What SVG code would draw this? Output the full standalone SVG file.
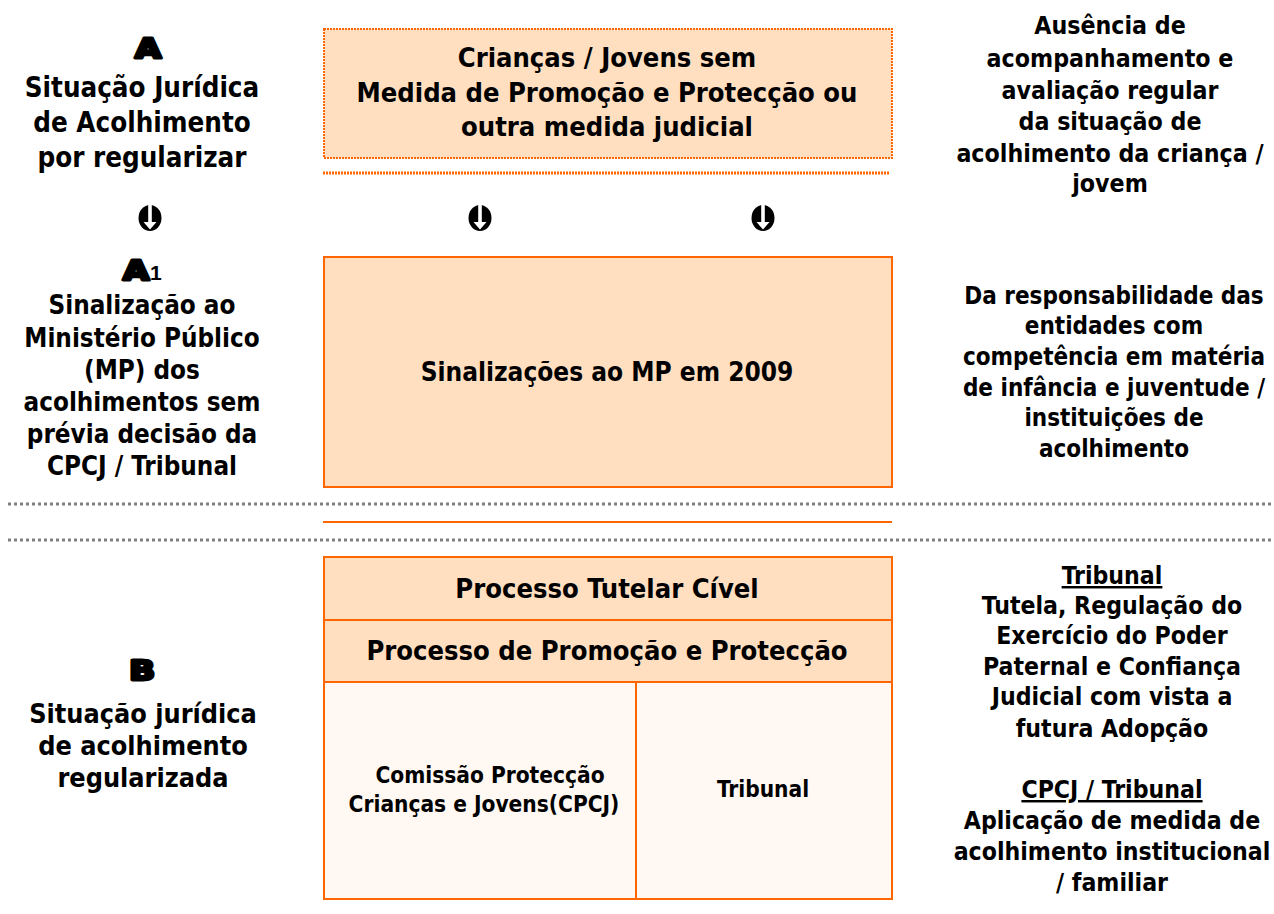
<svg xmlns="http://www.w3.org/2000/svg" width="1274" height="914" viewBox="0 0 1274 914">
<style>
.t{font-family:"DejaVu Sans Condensed","DejaVu Sans",sans-serif;font-weight:bold;fill:#000;text-anchor:middle}
.la{font-size:27.5px}
.la1{font-size:25.8px}
.lb{font-size:26.8px}
.rt{font-size:24.7px}
.rm{font-size:24px}
.rb{font-size:24.6px}
.bx{font-size:27.1px}
.cell{font-size:22.5px}
.big{font-family:"DejaVu Sans",sans-serif;font-weight:bold;font-size:26px;stroke:#000;stroke-width:3;stroke-linejoin:round;text-anchor:middle}
.ob{stroke:#FF6600;stroke-width:2}
.gdot{stroke:#808080;stroke-width:3;stroke-dasharray:3 3;fill:none}
</style>
<defs>
<g id="arr">
<ellipse cx="0" cy="0" rx="11.5" ry="13" fill="#000"/>
<path d="M-1.8,-14 L1.8,-14 L1.8,4 L6.5,4 L0,11.5 L-6.5,4 L-1.8,4 Z" fill="#fff"/>
</g>
</defs>
<rect width="1274" height="914" fill="#fff"/>

<g id="connectors">
<line x1="323" y1="173" x2="890" y2="173" stroke="#FF6600" stroke-width="3" stroke-dasharray="2 1"/>
<use href="#arr" x="150" y="218"/>
<use href="#arr" x="480" y="218"/>
<use href="#arr" x="763" y="218"/>
<line class="gdot" x1="8" y1="504" x2="1274" y2="504"/>
<line class="gdot" x1="8" y1="540" x2="1274" y2="540"/>
<line x1="323" y1="522" x2="892" y2="522" stroke="#FF6600" stroke-width="2"/>
</g>

<g id="labelA">
<text class="big" transform="translate(148,58) scale(1.3,1)">A</text>
<text class="t la" x="142" y="97">Situação Jurídica</text>
<text class="t la" x="142" y="132">de Acolhimento</text>
<text class="t la" x="142" y="167">por regularizar</text>
</g>

<g id="labelA1">
<text class="big" transform="translate(136,280) scale(1.3,1)">A</text>
<text x="150" y="280" style="font-family:'Liberation Sans',sans-serif;font-weight:bold;font-size:21px">1</text>
<text class="t la1" x="142" y="314">Sinalização ao</text>
<text class="t la1" x="142" y="347">Ministério Público</text>
<text class="t la1" x="142" y="379">(MP) dos</text>
<text class="t la1" x="142" y="411">acolhimentos sem</text>
<text class="t la1" x="142" y="443">prévia decisão da</text>
<text class="t la1" x="142" y="475">CPCJ / Tribunal</text>
</g>

<g id="labelB">
<text class="big" transform="translate(142,680) scale(1.3,1)">B</text>
<text class="t lb" x="143" y="723">Situação jurídica</text>
<text class="t lb" x="143" y="755">de acolhimento</text>
<text class="t lb" x="143" y="787">regularizada</text>
</g>

<g id="box1">
<rect x="324" y="29" width="568" height="129" fill="#FFDFC0" stroke="#FF6600" stroke-width="2" stroke-dasharray="2 1"/>
<text class="t bx" x="607" y="67">Crianças / Jovens sem</text>
<text class="t bx" x="607" y="102">Medida de Promoção e Protecção ou</text>
<text class="t bx" x="607" y="136">outra medida judicial</text>
</g>

<g id="box2">
<rect x="324" y="257" width="568" height="230" fill="#FFDFC0" class="ob"/>
<text class="t" style="font-size:26px" x="607" y="381">Sinalizações ao MP em 2009</text>
</g>

<g id="table">
<rect x="324" y="557" width="568" height="63" fill="#FFDFC0" class="ob"/>
<text class="t bx" x="607" y="598">Processo Tutelar Cível</text>
<rect x="324" y="620" width="568" height="62" fill="#FFDFC0" class="ob"/>
<text class="t bx" x="607" y="660">Processo de Promoção e Protecção</text>
<rect x="324" y="682" width="312" height="217" fill="#FFF8F3" class="ob"/>
<rect x="636" y="682" width="256" height="217" fill="#FFF8F3" class="ob"/>
<text class="t cell" x="490" y="783">Comissão Protecção</text>
<text class="t cell" x="484" y="812">Crianças e Jovens(CPCJ)</text>
<text class="t cell" x="763" y="797">Tribunal</text>
</g>

<g id="noteTop">
<text class="t rt" x="1110" y="34">Ausência de</text>
<text class="t rt" x="1110" y="67">acompanhamento e</text>
<text class="t rt" x="1110" y="99">avaliação regular</text>
<text class="t rt" x="1110" y="130">da situação de</text>
<text class="t rt" x="1110" y="162">acolhimento da criança /</text>
<text class="t rt" x="1110" y="192">jovem</text>
</g>

<g id="noteMid">
<text class="t rm" x="1114" y="304">Da responsabilidade das</text>
<text class="t rm" x="1114" y="334">entidades com</text>
<text class="t rm" x="1114" y="365">competência em matéria</text>
<text class="t rm" x="1114" y="396">de infância e juventude /</text>
<text class="t rm" x="1114" y="426">instituições de</text>
<text class="t rm" x="1114" y="457">acolhimento</text>
</g>

<g id="noteBottom">
<text class="t rb" x="1112" y="584" text-decoration="underline">Tribunal</text>
<text class="t rb" x="1112" y="614">Tutela, Regulação do</text>
<text class="t rb" x="1112" y="644">Exercício do Poder</text>
<text class="t rb" x="1112" y="675">Paternal e Confiança</text>
<text class="t rb" x="1112" y="705">Judicial com vista a</text>
<text class="t rb" x="1112" y="737">futura Adopção</text>
<text class="t rb" x="1112" y="798" text-decoration="underline">CPCJ / Tribunal</text>
<text class="t rb" x="1112" y="829">Aplicação de medida de</text>
<text class="t rb" x="1112" y="860">acolhimento institucional</text>
<text class="t rb" x="1112" y="891">/ familiar</text>
</g>
</svg>
